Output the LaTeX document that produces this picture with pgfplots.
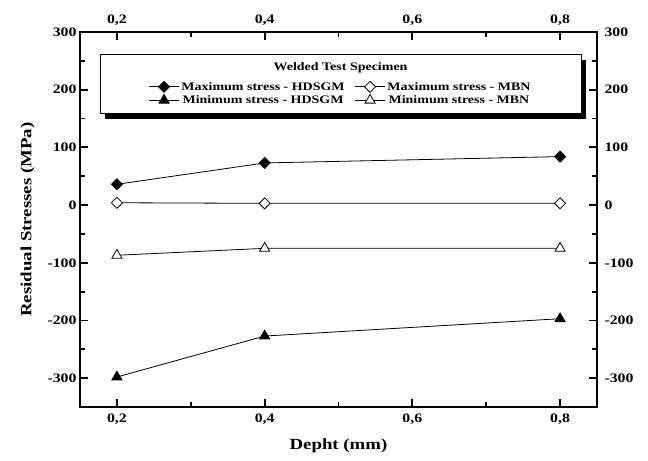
\documentclass[border=0pt]{standalone}
\usepackage{fontspec}
\setmainfont{Liberation Serif}[FakeStretch=1.22]
\usepackage{pgfplots}
\pgfplotsset{compat=1.18}
\begin{document}
\begin{tikzpicture}[x=1bp,y=1bp]
\useasboundingbox (-80,-54) rectangle (568,407);
% legend frame with shadow
\fill[black] (25,288) rectangle (506,347);
\draw[fill=white, line width=0.6bp] (20,294) rectangle (501,353);
\begin{axis}[
  at={(0,0)}, anchor=south west,
  scale only axis, width=517bp, height=375bp,
  xmin=0.15, xmax=0.85, ymin=-350, ymax=300,
  xtick={0.2,0.4,0.6,0.8}, minor xtick={0.3,0.5,0.7},
  xticklabels={{0,2},{0,4},{0,6},{0,8}},
  ytick={-300,-200,-100,0,100,200,300}, minor ytick={-250,-150,-50,50,150,250},
  yticklabels={-300,-200,-100,0,100,200,300},
  tick align=inside, axis line style={line width=1.8bp},
  major tick length=8bp, minor tick length=5bp,
  every tick/.style={line width=1.8bp, black},
  xtick pos=both, ytick pos=both,
  xticklabel pos=lower, yticklabel pos=left,
  tick label style={font=\bfseries\fontsize{13}{13}\selectfont},
  xticklabel style={yshift=-3bp},
  xlabel={Depht (mm)}, ylabel={Residual Stresses (MPa)},
  label style={font=\bfseries\fontsize{15.5}{15.5}\selectfont},
  xlabel style={yshift=-8bp},
  ylabel style={yshift=6bp},
  legend columns=2,
  legend style={draw=none, fill=none, at={(rel axis cs:0.504,0.836)}, anchor=center,
    font=\bfseries\fontsize{11.5}{12}\selectfont,
    /tikz/every even column/.append style={column sep=8bp},
    row sep=0bp, inner sep=0bp},
  legend image code/.code={\draw[mark repeat=2,mark phase=2,#1] plot coordinates {(0bp,0bp)(15bp,0bp)(30bp,0bp)};},
  every axis plot/.append style={line width=0.8bp, black},
]
\addplot[mark=square*, mark size=3.9bp, mark options={fill=black, solid, rotate=45}] coordinates {(0.2,36) (0.4,73) (0.8,84)};
\addlegendentry{Maximum stress - HDSGM}
\addplot[mark=square*, mark size=3.9bp, mark options={fill=white, solid, rotate=45}] coordinates {(0.2,4) (0.4,3) (0.8,3)};
\addlegendentry{Maximum stress - MBN}
\addplot[mark=triangle*, mark size=5.8bp, mark options={fill=black, solid}] coordinates {(0.2,-298) (0.4,-227) (0.8,-197)};
\addlegendentry{Minimum stress - HDSGM}
\addplot[mark=triangle*, mark size=5.8bp, mark options={fill=white, solid}] coordinates {(0.2,-87) (0.4,-75) (0.8,-75)};
\addlegendentry{Minimum stress - MBN}
\node[font=\bfseries\fontsize{11.5}{12}\selectfont] at (rel axis cs:0.504,0.904) {Welded Test Specimen};
\end{axis}
\begin{axis}[
  at={(0,0)}, anchor=south west,
  scale only axis, width=517bp, height=375bp,
  xmin=0.15, xmax=0.85, ymin=-350, ymax=300,
  xtick={0.2,0.4,0.6,0.8},
  xticklabels={{0,2},{0,4},{0,6},{0,8}},
  ytick={-300,-200,-100,0,100,200,300},
  yticklabels={-300,-200,-100,0,100,200,300},
  axis line style={draw=none}, major tick length=0bp,
  xticklabel pos=upper, yticklabel pos=right,
  tick label style={font=\bfseries\fontsize{13}{13}\selectfont},
  xticklabel style={yshift=3bp},
  yticklabel style={xshift=4bp},
]
\end{axis}
\end{tikzpicture}
\end{document}
